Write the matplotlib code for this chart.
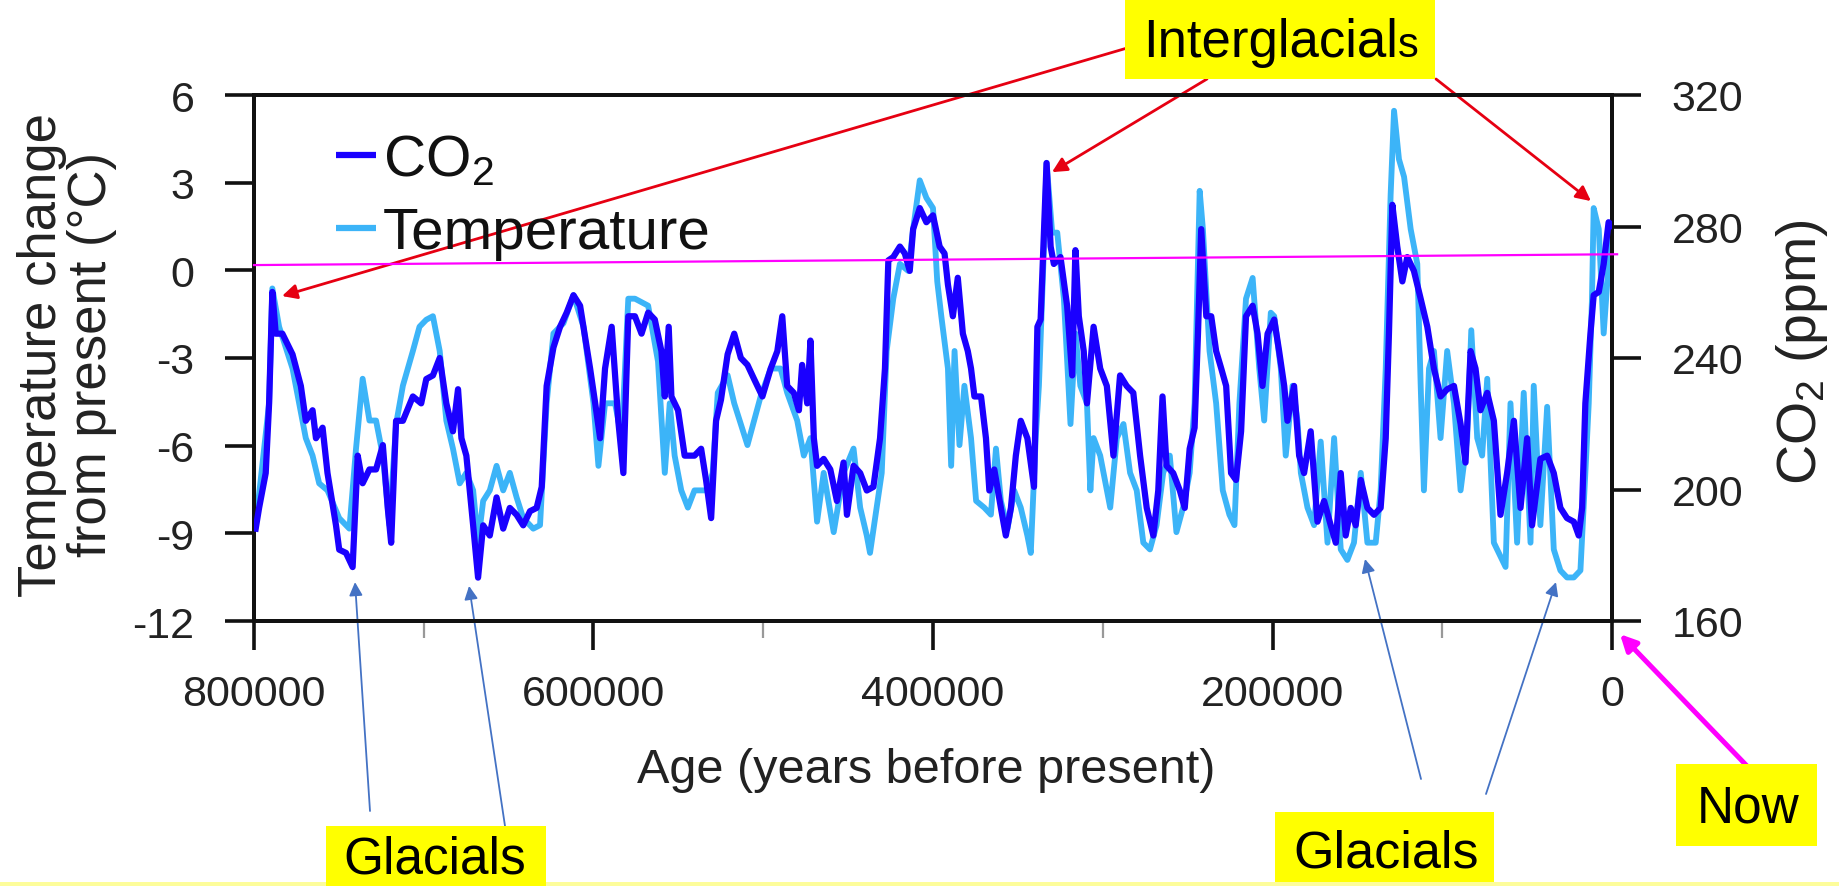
import numpy as np
import matplotlib
matplotlib.use("Agg")
import matplotlib.pyplot as plt
from matplotlib.patches import Rectangle
from matplotlib.lines import Line2D

plt.rcParams['font.family'] = ['Liberation Sans', 'DejaVu Sans']
plt.rcParams['mathtext.fontset'] = 'custom'
plt.rcParams['mathtext.rm'] = 'Liberation Sans'
plt.rcParams['mathtext.it'] = 'Liberation Sans:italic'
plt.rcParams['axes.unicode_minus'] = False

# ---------------- data (ages in thousand years before present) ----------------
co2_age_kyr = [
    799.0, 797.0, 793.1, 791.1, 789.2, 787.2, 783.3, 777.3, 772.4, 769.5,
    765.5, 763.5, 759.6, 756.7, 751.7, 749.8, 745.8, 741.9, 738.9, 736.0,
    732.0, 728.1, 724.1, 721.2, 719.2, 716.3, 712.3, 706.4, 701.5, 698.5,
    694.6, 690.6, 686.7, 682.8, 679.8, 677.8, 674.9, 670.9, 668.0, 665.0,
    661.1, 657.1, 653.2, 649.3, 645.3, 641.4, 637.4, 633.5, 630.5, 627.6,
    623.6, 619.7, 615.8, 611.8, 607.9, 602.0,
    599.0, 596.1, 593.2, 589.3, 585.4, 582.4, 579.5, 575.6, 571.7, 567.8,
    563.9, 560.0, 558.0, 555.7, 554.1, 550.2, 546.3, 540.5, 536.6, 533.7,
    530.7, 527.8, 524.9, 521.0, 517.1, 513.2, 509.3, 505.4, 500.5, 495.6,
    491.7, 488.8, 485.9, 482.0, 479.0, 477.1, 474.1, 472.2, 470.2, 468.3,
    464.4, 460.5, 456.6, 452.7, 450.7, 446.8, 442.9, 439.0, 435.1, 431.2,
    428.3, 426.3, 423.4, 419.5, 416.6, 413.7, 411.7, 407.8, 403.9, 400.0,
    396.1, 393.2, 391.2, 388.3, 385.4, 382.4, 379.5, 377.6, 375.6, 371.7,
    368.8, 366.8, 363.9, 360.0, 357.1, 354.1, 351.2, 348.3, 344.4, 340.5,
    338.5, 336.6, 334.6, 333.1, 330.7, 328.8, 324.9, 321.0, 318.0, 316.1,
    314.1, 311.2, 309.3, 305.4, 301.5, 297.6, 293.7, 289.8, 285.9, 282.0,
    278.0, 274.1, 270.2, 267.3, 264.8, 262.4, 258.5, 254.6, 251.7, 248.8,
    245.9, 243.9, 242.0, 239.0, 236.1, 233.2, 230.2, 227.3, 224.4, 221.5,
    218.5, 215.6, 211.7, 208.8, 205.9, 202.9,
    199.0, 196.1, 193.1, 191.2, 187.3, 184.3, 181.4, 177.5, 173.5, 169.6,
    165.7, 162.7, 159.8, 156.9, 153.9, 151.0, 148.0, 144.1, 140.2, 136.3,
    133.3, 131.4, 129.4, 126.5, 123.5, 120.6, 116.7, 112.7, 108.8, 104.9,
    101.0, 97.1, 93.1, 89.2, 86.3, 83.3, 80.4, 77.5, 73.5, 69.6,
    65.7, 61.8, 57.8, 53.9, 50.0, 47.1, 42.2, 38.2, 34.3, 30.4,
    26.5, 22.5, 19.6, 17.6, 15.7, 12.7, 10.8, 7.8, 4.9, 2.0, 0.0]

co2_ppm = [
    188.1, 194.4, 205.0, 226.2, 260.1, 247.4, 247.4, 241.1, 231.5, 220.9,
    224.1, 215.6, 218.8, 205.0, 189.1, 181.7, 180.7, 176.4, 210.3, 201.9,
    206.1, 206.1, 213.5, 194.4, 183.8, 220.9, 220.9, 228.3, 226.2, 233.6,
    234.7, 240.0, 226.2, 217.7, 230.5, 215.6, 210.3, 189.1, 173.2, 189.1,
    186.0, 197.6, 188.1, 194.4, 192.3, 189.1, 193.4, 194.4, 200.8, 231.5,
    243.2, 249.5, 253.8, 259.1, 255.9, 236.8,
    226.2, 215.6, 236.8, 249.5, 220.9, 205.0, 252.7, 252.7, 247.4, 253.8,
    251.7, 242.1, 228.3, 249.5, 228.3, 224.1, 210.3, 210.3, 212.4, 202.9,
    191.3, 220.9, 227.3, 241.1, 247.4, 240.0, 237.9, 233.6, 228.3, 236.8,
    242.1, 252.7, 231.5, 229.4, 224.1, 237.9, 226.2, 245.3, 215.6, 207.2,
    209.3, 206.1, 196.5, 208.2, 192.3, 207.2, 205.0, 199.7, 200.8, 215.6,
    236.8, 269.7, 270.7, 273.9, 271.8, 266.5, 279.2, 285.6, 281.3, 283.4,
    273.9, 271.8, 262.3, 252.7, 264.4, 247.4, 242.1, 236.8, 228.3, 228.3,
    215.6, 199.7, 206.1, 194.4, 186.0, 194.4, 210.3, 220.9, 215.6, 200.8,
    249.5, 251.7, 279.2, 299.3, 273.9, 268.6, 270.7, 255.9, 234.7, 272.8,
    252.7, 242.1, 226.2, 249.5, 236.8, 231.5, 210.3, 234.7, 231.5, 229.4,
    210.3, 194.4, 186.0, 199.7, 228.3, 207.2, 205.0, 199.7, 194.4, 212.4,
    218.8, 247.4, 279.2, 252.7, 252.7, 242.1, 236.8, 231.5, 205.0, 202.9,
    217.7, 252.7, 255.9, 247.4, 231.5, 247.4,
    251.7, 242.1, 231.5, 220.9, 231.5, 210.3, 205.0, 217.7, 190.2, 196.5,
    189.1, 183.8, 205.0, 186.0, 194.4, 189.1, 202.9, 194.4, 192.3, 194.4,
    215.6, 247.4, 286.6, 273.9, 263.3, 270.7, 266.5, 258.0, 249.5, 236.8,
    228.3, 230.5, 231.5, 219.9, 208.2, 242.1, 236.8, 224.1, 229.4, 220.9,
    192.3, 205.0, 220.9, 194.4, 215.6, 189.1, 209.3, 210.3, 205.0, 194.4,
    191.3, 190.2, 186.0, 194.4, 226.2, 247.4, 259.1, 260.1, 268.6, 281.3, 280.3]

temp_age_kyr = [
    799.0, 791.1, 789.2, 785.2, 777.3, 769.5, 765.5, 761.6, 756.7, 749.8,
    743.8, 739.9, 736.0, 732.0, 728.1, 724.1, 720.2, 716.3, 712.3, 706.4,
    702.5, 698.5, 694.6, 690.6, 686.7, 682.8, 678.8, 674.9, 670.9, 668.0,
    665.0, 661.1, 657.1, 653.2, 649.3, 645.3, 641.4, 635.5, 631.5, 627.6,
    623.6, 617.7, 611.8, 605.9, 600.0,
    597.1, 593.2, 587.3, 583.4, 579.5, 575.6, 567.8, 562.0, 558.0, 555.1,
    552.2, 548.3, 544.4, 540.5, 532.7, 529.8, 526.8, 521.0, 517.1, 513.2,
    509.3, 505.4, 501.5, 495.6, 489.8, 485.9, 480.0, 476.1, 472.2, 468.3,
    464.4, 458.5, 452.7, 446.8, 442.9, 439.0, 437.1, 433.2, 430.2, 427.3,
    423.4, 419.5, 414.6, 411.7, 407.8, 403.9, 400.0,
    397.5, 395.1, 391.2, 389.3, 387.3, 384.4, 381.5, 377.6, 374.6, 369.8,
    365.9, 362.9, 360.0, 356.1, 352.2, 348.3, 344.4, 342.4, 339.5, 337.6,
    334.6, 333.1, 329.8, 326.8, 322.9, 319.0, 316.1, 313.2, 309.3, 307.3,
    305.4, 301.5, 295.6, 291.7, 287.8, 283.9, 280.0, 276.1, 272.2, 268.3,
    264.4, 260.5, 256.6, 252.7, 248.8, 245.9, 242.9, 241.0, 237.1, 233.2,
    229.3, 225.4, 222.4, 219.5, 215.6, 211.7, 207.8, 204.9, 201.0,
    199.0, 195.1, 192.2, 188.2, 185.3, 183.3, 179.4, 175.5, 171.6, 167.6,
    163.7, 159.8, 155.9, 152.0, 148.0, 144.1, 139.2, 136.3, 133.3, 130.4,
    128.4, 125.5, 122.5, 118.6, 114.7, 112.7, 110.8, 107.8, 104.9, 101.0,
    97.1, 93.1, 89.2, 85.3, 82.9, 79.4, 76.5, 73.5, 69.6, 65.7,
    62.7, 59.8, 55.9, 52.0, 48.0, 46.1, 42.2, 38.2, 34.3, 30.4,
    26.5, 22.5, 18.6, 15.7, 13.7, 11.8, 10.8, 7.8, 4.9, 2.0, 0.0]

temp_change_c = [
    -8.72, -4.55, -0.62, -1.93, -3.36, -5.74, -6.34, -7.29, -7.53, -8.48,
    -8.84, -6.10, -3.71, -5.14, -5.14, -6.34, -8.72, -5.26, -3.95, -2.76,
    -1.93, -1.69, -1.57, -2.76, -5.14, -6.10, -7.29, -6.93, -7.53, -9.32,
    -7.89, -7.53, -6.69, -7.53, -6.93, -7.77, -8.48, -8.84, -8.72, -4.55,
    -2.16, -1.81, -0.85, -1.93, -4.55,
    -6.69, -4.55, -4.55, -5.74, -0.97, -0.97, -1.21, -3.12, -6.93, -4.55,
    -6.34, -7.53, -8.12, -7.53, -7.53, -6.93, -4.19, -3.59, -4.55, -5.26,
    -5.98, -5.14, -4.31, -3.36, -3.36, -4.19, -5.14, -6.34, -5.74, -8.60,
    -6.93, -8.96, -6.93, -6.10, -8.12, -9.08, -9.67, -8.12, -6.93, -2.76,
    -0.97, 0.22, -0.02, 1.41, 3.08, 2.48, 2.13,
    -0.38, -1.57, -3.36, -6.69, -2.76, -5.98, -3.95, -5.74, -7.89, -8.12,
    -8.36, -6.10, -7.89, -8.84, -7.53, -8.12, -9.08, -9.67, -5.74, -3.95,
    0.82, 3.68, 1.29, 1.29, -0.97, -5.26, -2.16, -3.95, -4.55, -7.53,
    -5.74, -6.34, -8.12, -5.74, -5.26, -6.93, -7.53, -9.32, -9.55, -8.72,
    -6.93, -6.34, -8.96, -8.12, -6.93, -4.55, 2.72, 1.41, -2.76, -4.55,
    -7.53, -8.36, -8.72, -4.55, -0.97, -0.26, -3.36, -5.14, -1.45,
    -1.57, -3.36, -6.34, -3.95, -5.14, -6.93, -8.12, -8.72, -5.86, -9.32,
    -5.74, -9.55, -9.91, -9.32, -6.93, -9.32, -9.32, -7.53, -3.36, 2.60,
    5.46, 3.80, 3.20, 1.41, 0.22, -3.95, -7.53, -3.36, -2.76, -5.74,
    -2.76, -4.55, -7.53, -5.74, -2.05, -5.74, -6.34, -3.71, -9.32, -9.79,
    -10.15, -4.55, -9.32, -4.19, -9.32, -3.95, -8.72, -4.67, -9.55, -10.27,
    -10.51, -10.51, -10.27, -6.93, -4.55, -0.97, 2.13, 1.41, -2.16, 0.22, 1.17]

x_ticks = [800000, 600000, 400000, 200000, 0]
x_tick_labels = ['800000', '600000', '400000', '200000', '0']
x_minor_ticks = [700000, 500000, 300000, 100000]
temp_ticks = [-12, -9, -6, -3, 0, 3, 6]
co2_ticks = [160, 200, 240, 280, 320]
ref_line_age = [800000, -3000]     # magenta reference line (years)
ref_line_temp = [0.18, 0.55]       # in deg C

# ---------------- figure ----------------
W, H = 1839, 887
fig = plt.figure(figsize=(W / 100, H / 100), dpi=100)
fig.patch.set_facecolor('white')

def fx(px):
    return px / W

def fy(py):
    return 1 - py / H

ax = fig.add_axes([fx(254), fy(622), 1358 / W, 526 / H])
ax2 = ax.twinx()

T_LO, T_HI, C_LO, C_HI = -12, 6, 160, 320

def t2c(t):
    return C_LO + (np.asarray(t) - T_LO) * (C_HI - C_LO) / (T_HI - T_LO)

DARK = '#1a00ff'
LIGHT = '#3cb4f8'

ax.plot(np.array(temp_age_kyr) * 1000, temp_change_c, color=LIGHT, lw=4.2,
        solid_joinstyle='round', zorder=2)
ax2.plot(np.array(co2_age_kyr) * 1000, co2_ppm, color=DARK, lw=4.5,
         solid_joinstyle='round', zorder=3)
ax2.plot(ref_line_age, t2c(ref_line_temp), color='#ff00ff', lw=1.6,
         zorder=4, clip_on=False)

ax.set_xlim(800000, 0)
ax.set_ylim(T_LO, T_HI)
ax2.set_ylim(C_LO, C_HI)

ax.set_xticks(x_ticks)
ax.set_xticklabels(x_tick_labels)
ax.set_xticks(x_minor_ticks, minor=True)
ax.set_yticks(temp_ticks)
ax.set_yticklabels([str(t) for t in temp_ticks])
ax2.set_yticks(co2_ticks)
ax2.set_yticklabels([str(c) for c in co2_ticks])

for a in (ax, ax2):
    for s in a.spines.values():
        s.set_linewidth(2.8)
        s.set_color('#111111')

TICK_FS = 31
ax.tick_params(axis='x', which='major', direction='out', length=21, width=2.6,
               pad=17, labelsize=TICK_FS, colors='#111111', labelcolor='#222222')
ax.tick_params(axis='x', which='minor', direction='out', length=12, width=1.6,
               colors='#999999')
ax.tick_params(axis='y', which='major', direction='out', length=21, width=2.6,
               pad=22, labelsize=TICK_FS, colors='#111111', labelcolor='#222222')
ax2.tick_params(axis='y', which='major', direction='out', length=21, width=2.6,
                pad=22, labelsize=TICK_FS, colors='#111111', labelcolor='#222222')

# axis labels
ax.set_xlabel('Age (years before present)', fontsize=35, color='#222222')
ax.xaxis.label.set_va('baseline')
ax.xaxis.set_label_coords(fx(926), fy(783), transform=fig.transFigure)

ax.set_ylabel('Temperature change\nfrom present (°C)', fontsize=38,
              color='#222222', linespacing=1.0)
ax.yaxis.label.set_ha('center')
ax.yaxis.label.set_va('center')
ax.yaxis.set_label_coords(fx(67), fy(355), transform=fig.transFigure)

ax2.set_ylabel('CO$_2$ (ppm)', fontsize=40, color='#222222', rotation=90)
ax2.yaxis.label.set_ha('center')
ax2.yaxis.label.set_va('center')
ax2.yaxis.set_label_coords(fx(1802), fy(352), transform=fig.transFigure)

# legend
handles = [Line2D([], [], color=DARK, lw=4.5, solid_capstyle='butt'),
           Line2D([], [], color=LIGHT, lw=4.5, solid_capstyle='butt')]
leg = ax2.legend(handles, ['CO$_2$', 'Temperature'], loc='upper left',
                 bbox_to_anchor=((336 - 254) / 1358, (622 - 134) / 526),
                 frameon=False, fontsize=42, handlelength=0.68,
                 handletextpad=0.12, labelspacing=0.33, borderaxespad=0,
                 borderpad=0)
for t in leg.get_texts():
    t.set_color('#111111')

# ---------------- annotations ----------------
def ybox(x0, y0, x1, y1):
    fig.patches.append(Rectangle((fx(x0), fy(y1)), (x1 - x0) / W, (y1 - y0) / H,
                                 transform=fig.transFigure, facecolor='#ffff00',
                                 edgecolor='none', zorder=5))

# pale strip along the bottom edge
fig.patches.append(Rectangle((0, 0), 1, 4 / H, transform=fig.transFigure,
                             facecolor='#fdfd9a', edgecolor='none', zorder=4))

ybox(1125, 0, 1435, 80)
fig.text(fx(1398), fy(57), 'Interglacial', fontsize=38, ha='right',
         va='baseline', color='black', zorder=6)
fig.text(fx(1398), fy(57), 's', fontsize=30, ha='left', va='baseline',
         color='black', zorder=6)

ybox(326, 827, 546, 890)
fig.text(fx(435), fy(874), 'Glacials', fontsize=37, ha='center',
         va='baseline', color='black', zorder=6)
ybox(1275, 813, 1494, 883)
fig.text(fx(1386), fy(868), 'Glacials', fontsize=37.5, ha='center',
         va='baseline', color='black', zorder=6)
ybox(1676, 765, 1817, 847)
fig.text(fx(1748), fy(823), 'Now', fontsize=37, ha='center',
         va='baseline', color='black', zorder=6)

def arrow(tip_age, tip_temp, sx, sy, color, lw, ms):
    ax.annotate('', xy=(tip_age, tip_temp), xycoords='data',
                xytext=(fx(sx), fy(sy)), textcoords='figure fraction',
                annotation_clip=False, zorder=7,
                arrowprops=dict(arrowstyle='-|>', color=color, lw=lw,
                                mutation_scale=ms, shrinkA=0, shrinkB=0))

RED = '#e60012'
arrow(783500, -0.88, 1134, 47, RED, 2.0, 22)
arrow(329900, 3.36, 1207, 80, RED, 2.0, 22)
arrow(12400, 2.37, 1436, 80, RED, 2.0, 22)

BLUE = '#4472c4'
arrow(740500, -10.67, 370, 812, BLUE, 1.3, 20)
arrow(673300, -10.80, 505, 827, BLUE, 1.3, 20)
arrow(145500, -9.88, 1421, 780, BLUE, 1.3, 20)
arrow(33000, -10.67, 1486, 795, BLUE, 1.3, 20)

arrow(-4700, -12.45, 1747, 767, '#ff00ff', 3.6, 24)

fig.savefig('out.png', dpi=100, facecolor='white')
